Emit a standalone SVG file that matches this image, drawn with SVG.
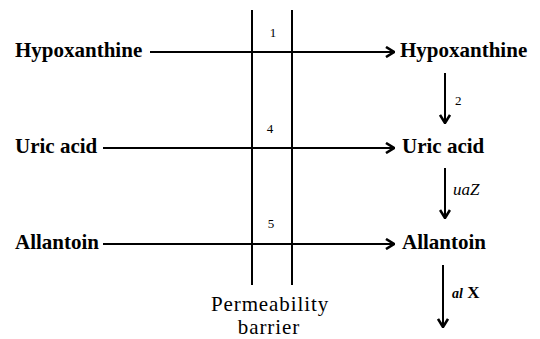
<svg xmlns="http://www.w3.org/2000/svg" width="540" height="339" viewBox="0 0 540 339">
<defs>
<style>
text{font-family:'Liberation Serif','DejaVu Serif',serif;fill:#000}
.t{font-size:21px;font-weight:bold}
.n{font-size:13px}
.g{font-size:17px}
.p{font-size:21px;letter-spacing:0.9px}
.l{stroke:#000;stroke-width:2;fill:none}
</style>
<marker id="ah" viewBox="0 0 12 12" refX="11" refY="6" markerWidth="12" markerHeight="12" markerUnits="userSpaceOnUse" orient="auto">
<polyline points="3,1 11,6 3,11" fill="none" stroke="#000" stroke-width="2.6"/>
</marker>
</defs>
<rect width="540" height="339" fill="#fff"/>
<g id="barrier">
<line class="l" x1="252" y1="10" x2="252" y2="285"/>
<line class="l" x1="292" y1="10" x2="292" y2="285"/>
<text class="p" x="270" y="311" text-anchor="middle">Permeability</text>
<text class="p" x="269" y="334" text-anchor="middle">barrier</text>
</g>
<g id="hypo-out"><text class="t" x="15" y="57">Hypoxanthine</text></g>
<g id="uric-out"><text class="t" x="15" y="153">Uric acid</text></g>
<g id="allan-out"><text class="t" x="15" y="249">Allantoin</text></g>
<g id="hypo-in"><text class="t" x="400" y="57">Hypoxanthine</text></g>
<g id="uric-in"><text class="t" x="402" y="153">Uric acid</text></g>
<g id="allan-in"><text class="t" x="402" y="249">Allantoin</text></g>
<g id="connectors">
<line class="l" x1="150" y1="52" x2="394" y2="52" marker-end="url(#ah)"/>
<line class="l" x1="103" y1="148" x2="394" y2="148" marker-end="url(#ah)"/>
<line class="l" x1="103" y1="244" x2="394" y2="244" marker-end="url(#ah)"/>
<line class="l" x1="445" y1="73" x2="445" y2="123" marker-end="url(#ah)"/>
<line class="l" x1="445" y1="168" x2="445" y2="218" marker-end="url(#ah)"/>
<line class="l" x1="443" y1="265" x2="443" y2="327" marker-end="url(#ah)"/>
<text class="n" x="273" y="37" text-anchor="middle">1</text>
<text class="n" x="270" y="133" text-anchor="middle">4</text>
<text class="n" x="271" y="228" text-anchor="middle">5</text>
<text class="n" x="455" y="105">2</text>
<text class="g" x="453" y="195" font-style="italic">uaZ</text>
<text class="g" x="452" y="298" font-weight="bold"><tspan font-style="italic" font-size="14">al</tspan> X</text>
</g>
</svg>
